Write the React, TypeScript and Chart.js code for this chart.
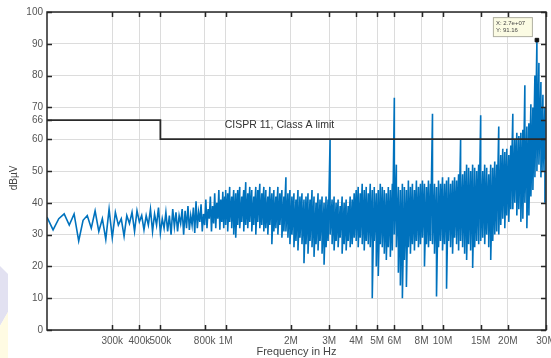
import React, { useEffect, useRef } from "react";
import { Chart, registerables } from "chart.js";

Chart.register(...registerables);

// ---- Data ----
// Low-frequency part: 150 kHz .. 1 MHz, 10 kHz sampling
const LOW_FREQ_START = 150e3;
const LOW_FREQ_STEP = 10e3;
const LOW_VALUES = [
  35.5, 31.5, 35, 36.5, 33, 36.5, 28, 34.5, 36, 32,
  37.5, 31, 35, 28.5, 38, 29, 37, 33, 35, 29.5,
  36, 33.5, 37, 31, 37.5, 34, 36, 31.5, 36, 33,
  38, 31, 36.5, 33, 38.5, 30.5, 35, 32, 37, 31,
  36, 30, 38, 32.5, 37, 31, 36, 33.5, 38, 30,
  37.5, 32, 39, 31.5, 36, 33, 38.5, 30.5, 40.5, 32,
  37, 34, 39.5, 31, 36.5, 33, 41, 32, 38, 35,
  42, 31, 39, 33.5, 43, 32, 40, 35, 44, 31.5,
  41, 34, 43.5, 32, 42, 35,
];

// High-frequency part: 1 MHz .. 30 MHz, 108 bins per decade, max / min per bin
const HIGH_FREQ_START = 1e6;
const HIGH_BINS_PER_DECADE = 108;
const HIGH_UPPER = [
  44, 43, 45, 42, 44, 43, 44, 45, 42, 44,
  46.5, 43, 45, 44, 42, 45, 44, 46, 43, 45,
  44, 42, 45, 43, 44, 42, 45, 43, 44, 42,
  48, 43, 44, 42, 43, 41, 44, 42, 43, 41,
  42, 43, 41, 44, 42, 40, 43, 41, 42, 40,
  42, 41, 60, 41, 42, 40, 41, 39, 42, 40,
  41, 39, 42, 41, 43, 44, 45, 43, 46, 44,
  45, 43, 46, 44, 45, 43, 44, 46, 45, 44,
  43, 45, 44, 46, 73, 52, 45, 44, 46, 45,
  44, 47, 45, 46, 44, 47, 45, 46, 47, 46,
  45, 47, 46, 68, 46, 45, 47, 46, 48, 46,
  47, 48, 46, 47, 48, 47, 49, 60, 49, 50,
  52, 51, 50, 52, 51, 50, 52, 67.5, 50, 52,
  51, 49, 52, 51, 53, 52, 64, 55, 57, 56,
  57, 55, 58, 68, 60, 62, 61, 62, 63, 77,
  64, 65, 71, 70, 80, 91.16, 84, 78, 74, 70,
];
const HIGH_LOWER = [
  33, 31, 34, 32, 30, 29, 33, 32, 34, 31,
  33, 32, 34, 31, 33, 30, 34, 32, 33, 31,
  32, 30, 33, 27, 31, 32, 30, 33, 29, 31,
  31, 29, 27, 30, 26, 28, 25, 29, 27, 21,
  27, 24, 28, 26, 23, 27, 25, 28, 24, 20.5,
  26, 28, 30, 27, 25, 28, 26, 29, 24, 27,
  25, 28, 26, 27, 29, 28, 26, 29, 27, 25,
  28, 27, 26, 10, 28, 20, 17, 27, 26, 24,
  22, 26, 23, 25, 30, 26, 18, 14, 10, 22,
  13.5, 26, 24, 27, 25, 28, 26, 27, 29, 20,
  27, 26, 28, 27, 24, 10.5, 26, 28, 25, 27,
  13, 28, 26, 24, 29, 27, 25, 28, 26, 24,
  22, 27, 25, 19.5, 26, 28, 27, 28, 29, 27,
  30, 26, 22, 28, 30, 31, 30, 33, 35, 32,
  36, 34, 38, 38, 40, 36, 38, 34, 35, 40,
  32, 36, 42, 44, 48, 50, 52, 48, 50, 40,
];

// CISPR 11 Class A limit
const LIMIT_FREQS = [150e3, 500e3, 500e3, 30e6];
const LIMIT_VALUES = [66, 66, 60, 60];
const LIMIT_LABEL = "CISPR 11, Class A limit";

// Axes
const X_MIN = 150e3;
const X_MAX = 30e6;
const X_TICK_VALUES = [3e5, 4e5, 5e5, 8e5, 1e6, 2e6, 3e6, 4e6, 5e6, 6e6, 8e6, 1e7, 1.5e7, 2e7, 3e7];
const X_TICK_LABELS = ["300k", "400k", "500k", "800k", "1M", "2M", "3M", "4M", "5M", "6M", "8M", "10M", "15M", "20M", "30M"];
const Y_TICK_VALUES = [0, 10, 20, 30, 40, 50, 60, 66, 70, 80, 90, 100];
const X_TITLE = "Frequency in Hz";
const Y_TITLE = "dBµV";
const TIP_X_TEXT = "X: 2.7e+07";
const TIP_Y_TEXT = "Y: 91.16";

const FONT = "'Liberation Sans', Arial, Helvetica, sans-serif";
const BLUE = "#0072BD";

function buildSpectrum() {
  const pts: { x: number; y: number }[] = [];
  LOW_VALUES.forEach((v, i) => pts.push({ x: LOW_FREQ_START + i * LOW_FREQ_STEP, y: v }));
  HIGH_UPPER.forEach((v, i) => {
    const f = HIGH_FREQ_START * Math.pow(10, i / HIGH_BINS_PER_DECADE);
    pts.push({ x: f, y: v });
    pts.push({ x: f, y: HIGH_LOWER[i] });
  });
  return pts;
}

function findPeak() {
  let best = 0;
  HIGH_UPPER.forEach((v, i) => {
    if (v > HIGH_UPPER[best]) best = i;
  });
  return { x: HIGH_FREQ_START * Math.pow(10, best / HIGH_BINS_PER_DECADE), y: HIGH_UPPER[best] };
}

function xLabel(v: number) {
  const idx = X_TICK_VALUES.findIndex((t) => Math.abs(t - v) / t < 1e-6);
  return idx >= 0 ? X_TICK_LABELS[idx] : "";
}

const decoPlugin = {
  id: "deco",
  beforeDraw(chart: any) {
    const ctx = chart.ctx;
    ctx.save();
    ctx.fillStyle = "#ffffff";
    ctx.fillRect(0, 0, chart.width, chart.height);
    // faint background shapes on the left edge
    ctx.fillStyle = "#e2e1f1";
    ctx.beginPath();
    ctx.moveTo(0, 266);
    ctx.lineTo(8, 274);
    ctx.lineTo(8, 312);
    ctx.lineTo(0, 326);
    ctx.closePath();
    ctx.fill();
    ctx.fillStyle = "#fffbe3";
    ctx.beginPath();
    ctx.moveTo(0, 326);
    ctx.lineTo(8, 312);
    ctx.lineTo(8, 358);
    ctx.lineTo(0, 358);
    ctx.closePath();
    ctx.fill();
    ctx.restore();
  },
  afterDatasetsDraw(chart: any) {
    const ctx = chart.ctx;
    const a = chart.chartArea;
    const xs = chart.scales.x;
    const ys = chart.scales.y;
    ctx.save();
    ctx.strokeStyle = "#262626";
    ctx.lineWidth = 1.5;
    ctx.strokeRect(a.left, a.top, a.right - a.left, a.bottom - a.top);
    const len = 5;
    ctx.beginPath();
    xs.ticks.forEach((t: any) => {
      const x = Math.round(xs.getPixelForValue(t.value)) + 0.5;
      ctx.moveTo(x, a.bottom);
      ctx.lineTo(x, a.bottom - len);
      ctx.moveTo(x, a.top);
      ctx.lineTo(x, a.top + len);
    });
    ys.ticks.forEach((t: any) => {
      const y = Math.round(ys.getPixelForValue(t.value)) + 0.5;
      ctx.moveTo(a.left, y);
      ctx.lineTo(a.left + len, y);
      ctx.moveTo(a.right, y);
      ctx.lineTo(a.right - len, y);
    });
    ctx.stroke();
    ctx.restore();
  },
  afterDraw(chart: any) {
    const ctx = chart.ctx;
    const a = chart.chartArea;
    const xs = chart.scales.x;
    const ys = chart.scales.y;
    ctx.save();
    // limit annotation
    ctx.fillStyle = "#333333";
    ctx.font = `10.5px ${FONT}`;
    ctx.textAlign = "left";
    ctx.textBaseline = "middle";
    ctx.fillText(LIMIT_LABEL, xs.getPixelForValue(1e6) - 1, ys.getPixelForValue(64.5));
    // axis titles
    ctx.fillStyle = "#444444";
    ctx.font = `11px ${FONT}`;
    ctx.textAlign = "center";
    ctx.textBaseline = "middle";
    ctx.fillText(X_TITLE, (a.left + a.right) / 2, 352);
    ctx.save();
    ctx.translate(14, 178);
    ctx.rotate(-Math.PI / 2);
    ctx.font = `10px ${FONT}`;
    ctx.fillText(Y_TITLE, 0, 0);
    ctx.restore();
    // datatip
    const pk = findPeak();
    const px = xs.getPixelForValue(pk.x);
    const py = ys.getPixelForValue(pk.y);
    const bx = px - 44;
    const by = py - 23;
    ctx.fillStyle = "#fbfbe3";
    ctx.strokeStyle = "#b0b0a0";
    ctx.lineWidth = 1;
    ctx.fillRect(bx, by, 39, 19);
    ctx.strokeRect(bx + 0.5, by + 0.5, 39, 19);
    ctx.fillStyle = "#444444";
    ctx.font = `6px ${FONT}`;
    ctx.textAlign = "left";
    ctx.textBaseline = "middle";
    ctx.fillText(TIP_X_TEXT, bx + 3, by + 6);
    ctx.fillText(TIP_Y_TEXT, bx + 3, by + 13);
    ctx.restore();
  },
};

export default function App() {
  const ref = useRef<HTMLCanvasElement>(null);
  useEffect(() => {
    document.body.style.margin = "0";
    const peak = findPeak();
    const chart = new Chart(ref.current as HTMLCanvasElement, {
      type: "scatter",
      data: {
        datasets: [
          {
            data: LIMIT_FREQS.map((f, i) => ({ x: f, y: LIMIT_VALUES[i] })),
            showLine: true,
            borderColor: "#2a2a2a",
            borderWidth: 1.8,
            pointRadius: 0,
            order: 0,
          },
          {
            data: buildSpectrum(),
            showLine: true,
            borderColor: BLUE,
            borderWidth: 1.6,
            pointRadius: 0,
            order: 2,
          },
          {
            data: [peak],
            showLine: false,
            pointStyle: "rect",
            pointRadius: 2.5,
            backgroundColor: "#111111",
            borderColor: "#111111",
            order: -1,
          },
        ] as any,
      },
      options: {
        responsive: false,
        animation: false,
        devicePixelRatio: 1,
        layout: { padding: { left: 0, right: 5, top: 12, bottom: 0 } },
        plugins: { legend: { display: false }, tooltip: { enabled: false } },
        scales: {
          x: {
            type: "logarithmic",
            min: X_MIN,
            max: X_MAX,
            afterBuildTicks: (s: any) => {
              s.ticks = X_TICK_VALUES.map((v) => ({ value: v }));
            },
            afterFit: (s: any) => {
              s.height = 28;
              s.paddingLeft = 0;
              s.paddingRight = 0;
            },
            ticks: {
              autoSkip: false,
              maxRotation: 0,
              minRotation: 0,
              padding: 5,
              color: "#555555",
              font: { family: FONT, size: 10 },
              callback: (v: any) => xLabel(Number(v)),
            },
            grid: { color: "#dcdcdc", lineWidth: 1, drawTicks: false },
            border: { display: false },
          },
          y: {
            type: "linear",
            min: 0,
            max: 100,
            afterBuildTicks: (s: any) => {
              s.ticks = Y_TICK_VALUES.map((v) => ({ value: v }));
            },
            afterFit: (s: any) => {
              s.width = 47;
              s.paddingTop = 0;
              s.paddingBottom = 0;
            },
            ticks: {
              padding: 4,
              color: "#555555",
              font: { family: FONT, size: 10 },
              callback: (v: any) => String(v),
            },
            grid: { color: "#dcdcdc", lineWidth: 1, drawTicks: false },
            border: { display: false },
          },
        },
      } as any,
      plugins: [decoPlugin],
    });
    return () => chart.destroy();
  }, []);
  return (
    <div style={{ width: 551, height: 358 }}>
      <canvas ref={ref} width={551} height={358} style={{ display: "block", width: 551, height: 358 }} />
    </div>
  );
}
